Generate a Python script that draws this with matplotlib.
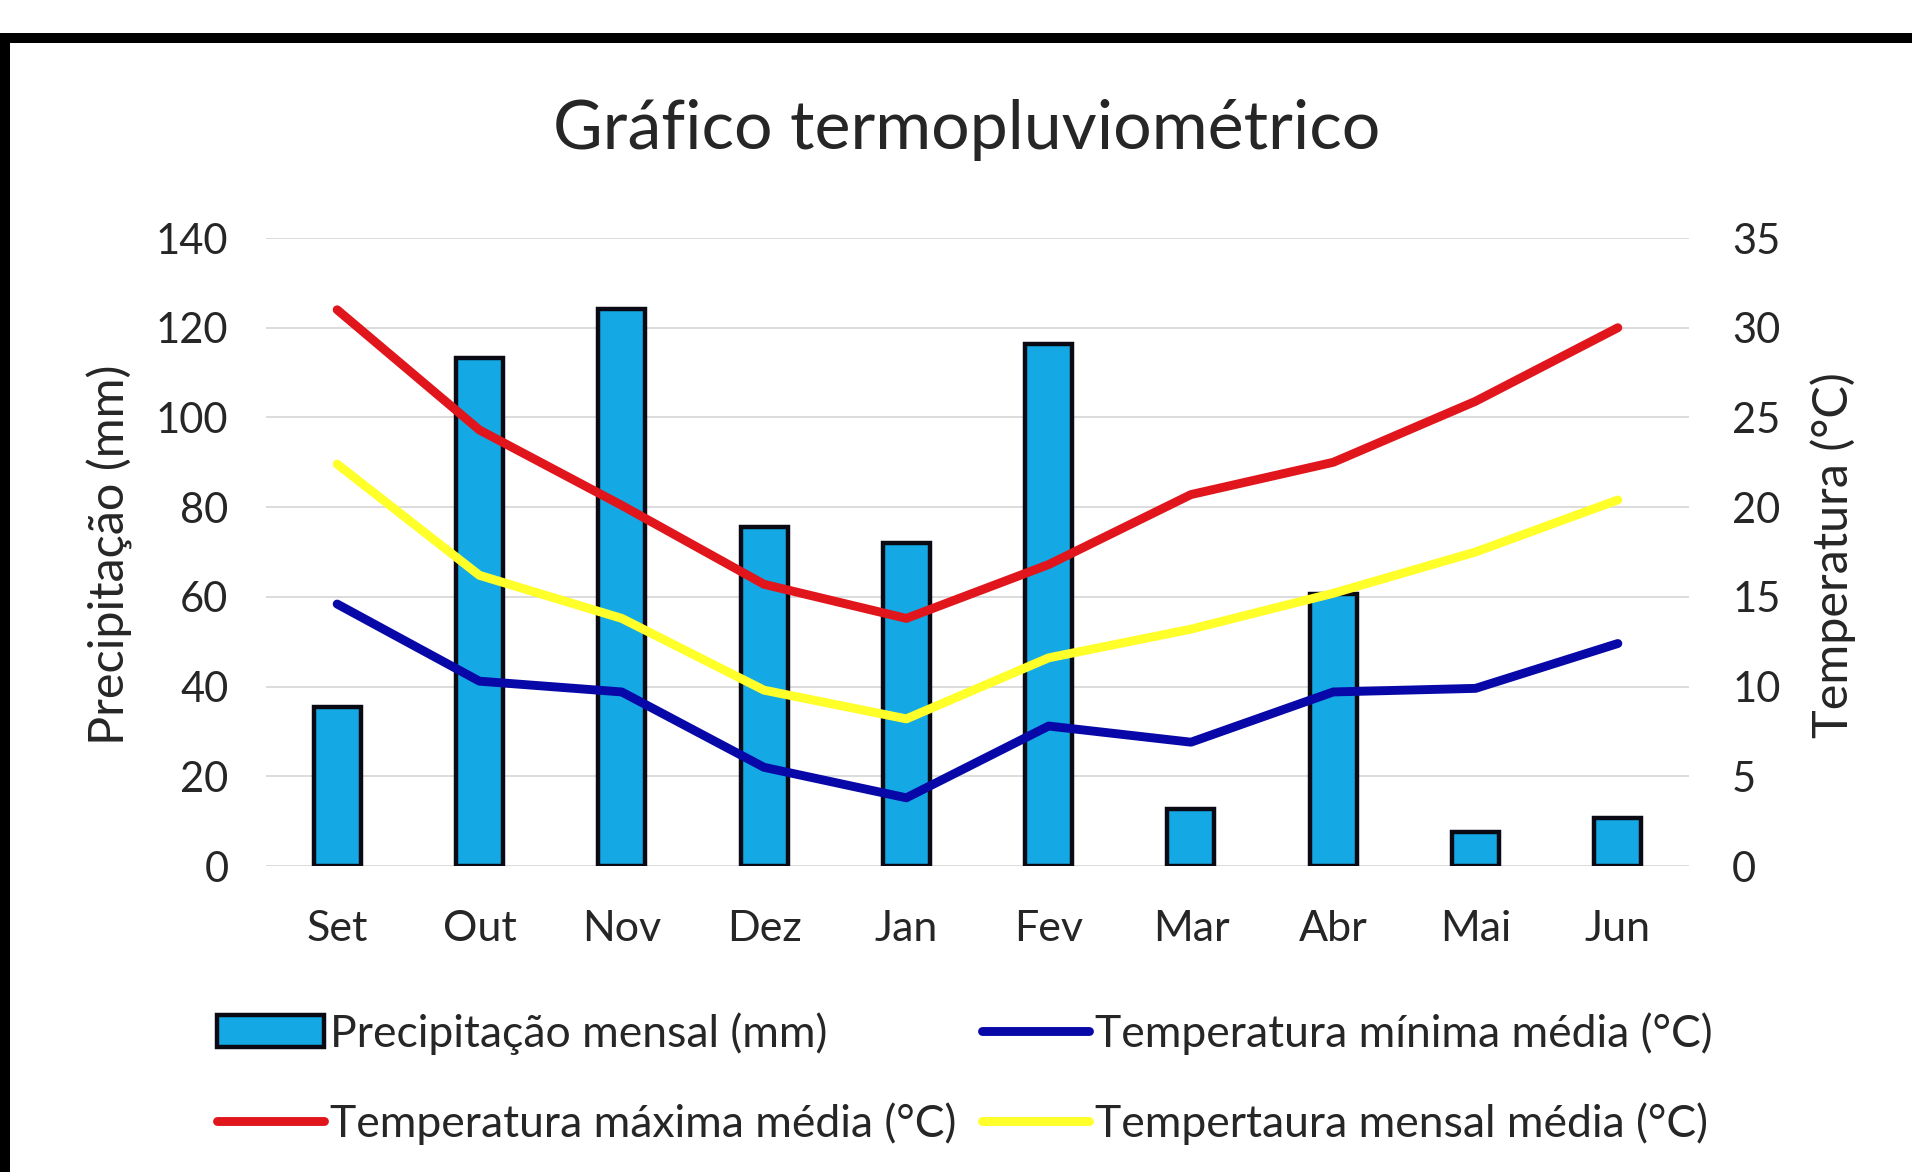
import matplotlib
matplotlib.use("Agg")
import matplotlib.pyplot as plt
from matplotlib.patches import Rectangle, Patch
from matplotlib.lines import Line2D
import numpy as np

months = ["Set", "Out", "Nov", "Dez", "Jan", "Fev", "Mar", "Abr", "Mai", "Jun"]
precip = [35.5, 113.3, 124.1, 75.6, 72.0, 116.3, 12.7, 60.6, 7.6, 10.6]
t_max = [31.0, 24.3, 20.1, 15.7, 13.8, 16.8, 20.7, 22.5, 25.9, 30.0]
t_min = [14.6, 10.3, 9.7, 5.5, 3.8, 7.8, 6.9, 9.7, 9.9, 12.4]
t_mean = [22.4, 16.2, 13.8, 9.8, 8.2, 11.6, 13.2, 15.2, 17.5, 20.4]

left_ticks = [0, 20, 40, 60, 80, 100, 120, 140]
right_ticks = [0, 5, 10, 15, 20, 25, 30, 35]

title = "Gráfico termopluviométrico"
ylabel_left = "Precipitação (mm)"
ylabel_right = "Temperatura (°C)"
legend_labels = ["Precipitação mensal (mm)", "Temperatura máxima média (°C)",
                 "Temperatura mínima média (°C)", "Tempertaura mensal média (°C)"]

plt.rcParams['font.family'] = ['Lato', 'DejaVu Sans']
txt = "#262626"

W, H = 1912, 1172
fig = plt.figure(figsize=(W / 100, H / 100), dpi=100)
fig.patch.set_facecolor("white")

ax = fig.add_axes([266 / W, 1 - 866 / H, (1689 - 266) / W, (866 - 238) / H])
ax2 = ax.twinx()

x = np.arange(len(months))
c_bar = "#14A9E4"
c_red = "#E0161C"
c_blue = "#0808A8"
c_yel = "#FFFF2A"
c_edge = "#0A0A14"

ax.bar(x, precip, width=0.33, color=c_bar, edgecolor=c_edge, linewidth=3.2, zorder=3)
ax.set_ylim(0, 140)
ax.set_xlim(-0.5, len(months) - 0.5)
ax.set_yticks(left_ticks)
ax.set_xticks(x)
ax.set_xticklabels(months)
ax.grid(axis="y", color="#D9D9D9", linewidth=1.3, zorder=0)
ax.set_axisbelow(True)
for s in ax.spines.values():
    s.set_visible(False)
ax.tick_params(axis="y", length=0, pad=27, labelsize=30, labelcolor=txt)
ax.tick_params(axis="x", length=0, pad=32, labelsize=31, labelcolor=txt)

lw = 6.4
ax2.plot(x, t_min, color=c_blue, lw=lw, solid_joinstyle="round", solid_capstyle="round", zorder=4)
ax2.plot(x, t_mean, color=c_yel, lw=lw, solid_joinstyle="round", solid_capstyle="round", zorder=4)
ax2.plot(x, t_max, color=c_red, lw=lw, solid_joinstyle="round", solid_capstyle="round", zorder=4)
ax2.set_ylim(0, 35)
ax2.set_yticks(right_ticks)
for s in ax2.spines.values():
    s.set_visible(False)
ax2.tick_params(axis="y", length=0, pad=31, labelsize=30, labelcolor=txt)

fig.text(967 / W, 1 - 130 / H, title, ha="center", va="center", fontsize=49, color=txt)
fig.text(110 / W, 1 - 555 / H, ylabel_left, ha="center", va="center", rotation=90, fontsize=35, color=txt)
fig.text(1833 / W, 1 - 555 / H, ylabel_right, ha="center", va="center", rotation=90, fontsize=35, color=txt)

handles = [
    Patch(facecolor=c_bar, edgecolor=c_edge, linewidth=3.2),
    Line2D([], [], color=c_red, lw=lw, solid_capstyle="round"),
    Line2D([], [], color=c_blue, lw=lw, solid_capstyle="round"),
    Line2D([], [], color=c_yel, lw=lw, solid_capstyle="round"),
]
leg = fig.legend(handles, legend_labels, ncol=2, loc="upper left",
                 bbox_to_anchor=(217 / W, 1 - 1012 / H), frameon=False,
                 fontsize=32, handlelength=2.4, handleheight=0.75, handletextpad=0.15,
                 columnspacing=0.57, labelspacing=1.07, borderpad=0, borderaxespad=0)
for t in leg.get_texts():
    t.set_color(txt)

# black frame on top and left
fig.add_artist(Rectangle((0, 1 - 43 / H), 1, 10 / H, transform=fig.transFigure,
                         facecolor="black", edgecolor="none"))
fig.add_artist(Rectangle((0, 0), 10 / W, 1 - 33 / H, transform=fig.transFigure,
                         facecolor="black", edgecolor="none"))

fig.savefig("out.png", dpi=100)
